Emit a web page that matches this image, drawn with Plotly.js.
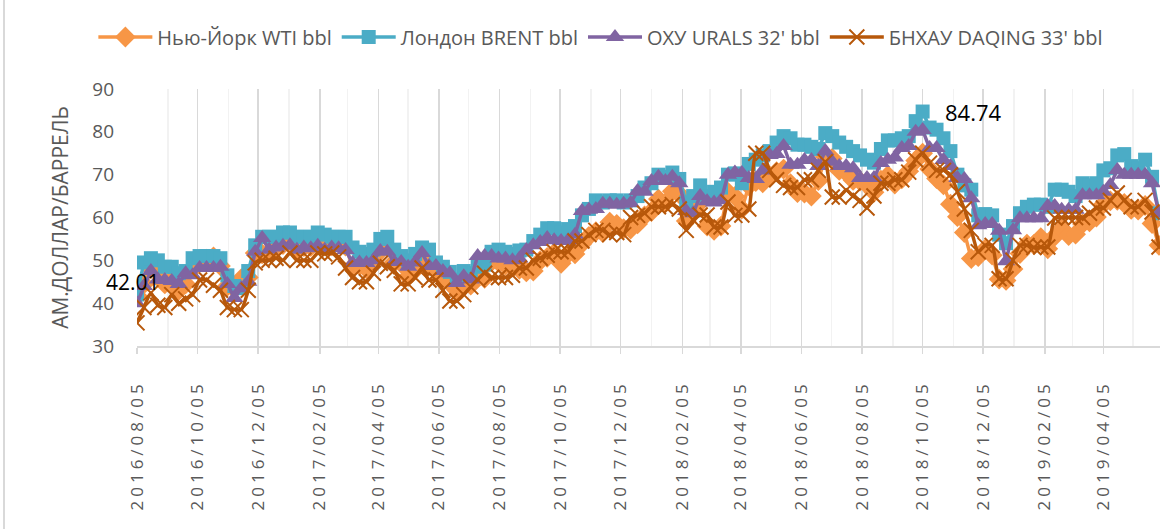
<!DOCTYPE html>
<html>
<head>
<meta charset="utf-8">
<script src="https://cdn.plot.ly/plotly-3.0.1.min.js"></script>
<style>
  html, body { margin: 0; padding: 0; background: #fff; }
  #wrap { position: relative; width: 1169px; height: 529px; }
  #chart { width: 1169px; height: 529px; }
  #edge { position: absolute; left: 3px; top: 0; width: 2px; height: 529px; background: #d9d9d9; }
  .xaxislayer-above .xtick text { letter-spacing: 4px; }
</style>
</head>
<body>
<div id="wrap"><div id="chart"></div><div id="edge"></div></div>
<script>
// Weekly observation dates (every Friday from 2016/08/05)
const startDate = '2016-08-05';
const nWeeks = 148;
const dates = [];
for (let i = 0; i < nWeeks; i++) {
  const d = new Date(Date.UTC(2016, 7, 5) + i * 7 * 86400000);
  dates.push(d.toISOString().slice(0, 10));
}

const seriesNames = ["Нью-Йорк WTI bbl", "Лондон BRENT bbl", "ОХУ URALS 32' bbl", "БНХАУ DAQING 33' bbl"];

const wti = [
  41.8, 44.5, 48, 47.5, 44.5, 45.5, 43, 44.5, 48, 49.8, 50.3, 50.8, 48.7, 44, 43.4, 45.7, 46, 51.7, 51.5, 51.9,
  53, 53.7, 54, 52.4, 53.2, 53.2, 53.8, 53.9, 53.4, 54, 53.3, 48.5, 48.8, 48, 50.6, 52.2, 53.2, 49.6, 49.3, 46.2,
  47.8, 50.3, 49.8, 47.7, 45.8, 44.7, 43, 46, 44.2, 46.5, 45.8, 49.7, 49.6, 48.8, 48.5, 47.9, 47.3, 47.5, 49.9, 50.7,
  51.7, 49.3, 51.5, 51.5, 53.9, 55.6, 56.7, 56.5, 58.9, 58.4, 57.4, 57.3, 58.5, 60.4, 61.4, 64.3, 63.4, 66.1, 65.5, 59.2,
  61.7, 63.5, 58, 57, 58, 65.9, 64.9, 62, 67.4, 68.4, 68.1, 69.7, 70.7, 71.3, 67.9, 65.8, 65.7, 65, 68.6, 74.2,
  73.8, 71, 70.5, 68.7, 68.5, 67.6, 65.9, 68.7, 69.8, 67.8, 69, 70.8, 73.3, 75, 71.3, 69.1, 67.6, 63.1, 60.2, 56.5,
  50.4, 50.9, 52.6, 51.2, 45.6, 45.3, 48, 51.6, 53.8, 53.7, 55.3, 52.7, 55.6, 57.3, 55.8, 56.1, 58.5, 59, 60.1, 63.1,
  63.9, 64, 63.3, 61.9, 61.7, 62.8, 58.6, 53.5
];

const brent = [
  42.01, 49.5, 50.5, 50, 48.5, 48.5, 47, 47.5, 50.5, 51, 51, 51, 50.5, 46.5, 44, 43.5, 47.5, 53.5, 55.5, 55.5,
  55.5, 56.5, 56.5, 55.5, 55.5, 55.5, 56.5, 56, 55.5, 55.5, 55.5, 53, 52, 51.5, 52.5, 55, 55.5, 52.5, 51, 50,
  51.5, 53, 52.5, 49.5, 48.5, 47.3, 45.5, 47.5, 47, 48.5, 49, 52, 52.5, 52, 51.5, 52.3, 52.5, 54.5, 56, 57.5,
  57.5, 56.5, 57.3, 58, 60.5, 62, 64, 63.5, 64, 64, 63.5, 64, 65, 67, 68, 70, 69.5, 70.5, 69, 63.5,
  65, 67.5, 65, 66, 67, 70, 70.3, 68, 72.5, 73.5, 74.5, 75.5, 77.5, 79, 78.5, 77, 77, 76.5, 76, 79.7,
  79, 77.5, 76.5, 75.5, 74.5, 73.5, 72.8, 76, 78, 78, 78.5, 79, 82.5, 84.74, 81, 80.5, 78.5, 75.5, 70, 67.5,
  66.5, 60.5, 60.8, 60.5, 56, 54, 58, 61, 62.5, 63, 63, 62.5, 66.5, 66.5, 66, 65, 68, 67.5, 68, 71,
  71.5, 74.5, 74.8, 72, 71.5, 73.5, 69.5, 61
];

const urals = [
  40, 44, 47.5, 45.5, 45.4, 45.2, 44.5, 47, 46.5, 48.2, 48.2, 48.2, 48.5, 44.5, 41.2, 43.5, 45, 52, 55.2, 52.5,
  53, 53.4, 53.5, 52.5, 53, 52.8, 53.4, 52.5, 53, 52.8, 52.4, 49.4, 49.5, 49.4, 50, 52.2, 52, 49.6, 49.6, 48.5,
  49.5, 51.7, 48.7, 48.7, 47.5, 47, 44.7, 46.3, 45.5, 51, 51, 51, 50.4, 50.4, 50, 50.4, 52.4, 53.5, 54.3, 55.2,
  54.7, 54.5, 54.7, 56, 61.5, 61.8, 62, 63.2, 63.2, 63, 63.2, 63.4, 66.2, 66, 68.5, 69.5, 68.5, 69.5, 68, 61.5,
  61, 65, 63.8, 63.5, 64, 70, 70.5, 70.4, 69.2, 69, 71, 74.6, 74.8, 76.7, 72.3, 72.3, 73.4, 73.4, 72, 75.5,
  73, 72, 72, 71.5, 69.2, 69.2, 69.2, 72.7, 73.5, 74, 76.2, 76.7, 80, 80.4, 76.2, 76.2, 73.4, 72, 69.2, 69,
  64.5, 58.2, 58.5, 58.5, 56.9, 49.8, 57, 59.8, 59.8, 59.8, 59.8, 62.7, 62.7, 61.8, 61.8, 61.8, 65.2, 65.2, 65.2, 66,
  67.6, 71.1, 70, 70, 70, 70, 68, 61
];

const daqing = [
  35.4, 39, 42.4, 39.5, 39, 42, 40, 41, 42, 45.4, 45.4, 44.2, 43, 39, 38.5, 38.5, 43, 49.4, 50, 50,
  50.5, 50, 51.7, 50, 50, 50, 51.7, 51.5, 51.7, 50.8, 48.2, 46, 45, 45, 47, 49.3, 48.5, 47.7, 44.5, 44.5,
  46, 48.2, 45.4, 45.4, 43, 40.5, 40.5, 42, 43.8, 45.5, 47, 46, 46, 46, 46.5, 48.2, 48.2, 50, 50.5, 51.2,
  52, 52, 52, 54.5, 54.5, 56, 57, 57, 56, 56.5, 56, 60, 60.5, 61, 62.5, 62.5, 62.5, 63, 62, 57,
  59.4, 60.6, 60.6, 57.8, 57.8, 63.6, 60.5, 60.6, 62, 75, 75, 71, 68.8, 67.5, 67, 67, 68.8, 68.8, 71, 73,
  64.8, 64.8, 66.4, 65, 64, 62.2, 65, 68, 68, 68.8, 68.8, 70.6, 73.5, 75, 72.7, 71, 71, 70, 66, 62,
  57, 52, 53.5, 53.5, 45.7, 45.7, 50, 53.5, 53.5, 53, 53.1, 53.1, 59.9, 60, 60, 60, 60, 61, 62.2, 62.2,
  64, 65.7, 64, 62.5, 62.5, 64, 61.3, 53.1
];

const yTicks = [30, 40, 50, 60, 70, 80, 90];
const yTitle = 'АМ.ДОЛЛАР/БАРРЕЛЬ';

const colors = ['#F79646', '#4BACC6', '#8064A2', '#B7580B'];
const FONT = 'Open Sans, sans-serif';

const traces = [
  { x: dates, y: wti, name: seriesNames[0], type: 'scatter', mode: 'lines+markers',
    line: { color: colors[0], width: 3.5 },
    marker: { symbol: 'diamond', size: 16, color: colors[0] } },
  { x: dates, y: brent, name: seriesNames[1], type: 'scatter', mode: 'lines+markers',
    line: { color: colors[1], width: 3.5 },
    marker: { symbol: 'square', size: 14, color: colors[1] } },
  { x: dates, y: urals, name: seriesNames[2], type: 'scatter', mode: 'lines+markers',
    line: { color: colors[2], width: 3.5 },
    marker: { symbol: 'triangle-up', size: 16, color: colors[2] } },
  { x: dates, y: daqing, name: seriesNames[3], type: 'scatter', mode: 'lines+markers',
    line: { color: colors[3], width: 3.5, shape: 'spline', smoothing: 0.6 },
    marker: { symbol: 'x-thin', size: 15, color: colors[3], line: { color: colors[3], width: 2 } } }
];

// data labels on Brent: first value and maximum
let iMax = 0;
brent.forEach((v, i) => { if (v > brent[iMax]) iMax = i; });

const layout = {
  width: 1169, height: 529,
  margin: { l: 137, r: 9, t: 89, b: 183 },
  paper_bgcolor: '#ffffff', plot_bgcolor: '#ffffff',
  font: { family: FONT, color: '#595959' },
  showlegend: true,
  legend: {
    orientation: 'h', x: 0.514, xanchor: 'center', xref: 'container',
    y: 1 - 37 / 529, yanchor: 'middle', yref: 'container',
    font: { family: FONT, size: 20, color: '#595959' },
    itemwidth: 54, tracegroupgap: 0
  },
  xaxis: {
    type: 'date',
    range: ['2016-08-05', '2019-06-01'],
    tick0: startDate, dtick: 'M2', tickformat: '%Y/%m/%d',
    tickangle: -90,
    tickfont: { family: FONT, size: 17, color: '#595959' },
    ticks: 'outside', ticklen: 6, tickcolor: '#d9d9d9', tickwidth: 1.5,
    ticklabelstandoff: 20,
    showgrid: true, gridcolor: '#d9d9d9', gridwidth: 1.5,
    minor: { tick0: startDate, dtick: 'M1', showgrid: true, gridcolor: '#f2f2f2', gridwidth: 1.5, ticks: '' },
    showline: true, linecolor: '#d9d9d9', linewidth: 1.5,
    zeroline: false, fixedrange: true
  },
  yaxis: {
    range: [30, 90], tickvals: yTicks,
    tickfont: { family: FONT, size: 19, color: '#595959' },
    ticks: '', ticklabelstandoff: 22,
    showgrid: false, zeroline: false, showline: false,
    title: { text: yTitle, font: { family: FONT, size: 21, color: '#595959' }, standoff: 17 }
  },
  annotations: [
    { x: dates[0], y: brent[0], xref: 'x', yref: 'y', text: brent[0].toFixed(2), showarrow: false,
      xanchor: 'center', yanchor: 'middle', xshift: -4, yshift: 13,
      font: { family: FONT, size: 21, color: '#000000' } },
    { x: dates[iMax], y: brent[iMax], xref: 'x', yref: 'y', text: brent[iMax].toFixed(2), showarrow: false,
      xanchor: 'left', yanchor: 'middle', xshift: 20, yshift: 0,
      font: { family: FONT, size: 22, color: '#000000' } }
  ]
};

Plotly.newPlot('chart', traces, layout, { displayModeBar: false, staticPlot: true });
</script>
</body>
</html>
